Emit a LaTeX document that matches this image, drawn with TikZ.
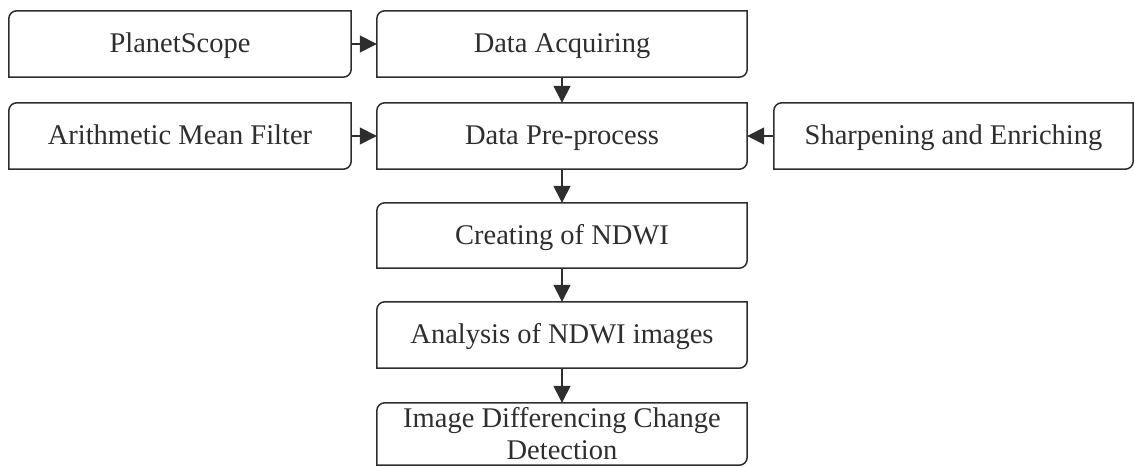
\documentclass[tikz,border=0pt]{standalone}
\usepackage{fontspec}
\setmainfont{Liberation Serif}
\usetikzlibrary{arrows.meta}
\definecolor{ink}{HTML}{2E2E2E}
\tikzset{
  flowbox/.style={draw=none, inner sep=0pt, minimum height=66pt, align=center,
    font=\fontsize{28.5}{32}\selectfont, text=ink, text height=20pt, text depth=2pt},
  outline/.style={draw=ink, line width=1.5pt},
  conn/.style={draw=ink, line width=1.5pt, -{Triangle[length=17pt,width=17pt]}}
}
\newcommand{\boxoutline}[1]{%
  \draw[outline] ([yshift=-8pt]#1.north west) arc[start angle=180,end angle=90,radius=8pt]
    -- (#1.north east) -- ([yshift=8pt]#1.south east)
    arc[start angle=0,end angle=-90,radius=8pt] -- (#1.south west) -- cycle;}
\begin{document}
\begin{tikzpicture}[x=1pt,y=1pt]
\useasboundingbox (0,0) rectangle (1135,466);
\node[flowbox, minimum width=342pt] (ps) at (180,422) {PlanetScope};
\node[flowbox, minimum width=370pt] (da) at (562,422) {Data Acquiring};
\node[flowbox, minimum width=342pt] (amf) at (180,330) {Arithmetic Mean Filter};
\node[flowbox, minimum width=370pt] (dp) at (562,330) {Data Pre-process};
\node[flowbox, minimum width=359pt] (se) at (953.5,330) {Sharpening and Enriching};
\node[flowbox, minimum width=370pt, minimum height=65pt] (cn) at (562,230.5) {Creating of NDWI};
\node[flowbox, minimum width=370pt] (an) at (562,131) {Analysis of NDWI images};
\node[flowbox, minimum width=370pt, minimum height=62pt, text height=, text depth=, font=\fontsize{28.5}{32}\selectfont] (id) at (562,32) {Image Differencing Change\\Detection};
\foreach \n in {ps,da,amf,dp,se,cn,an,id} {\boxoutline{\n}}
\draw[conn] (ps.east) -- (da.west);
\draw[conn] (amf.east) -- (dp.west);
\draw[conn] (se.west) -- (dp.east);
\draw[conn] (da.south) -- (dp.north);
\draw[conn] (dp.south) -- (cn.north);
\draw[conn] (cn.south) -- (an.north);
\draw[conn] (an.south) -- (id.north);
\end{tikzpicture}
\end{document}
